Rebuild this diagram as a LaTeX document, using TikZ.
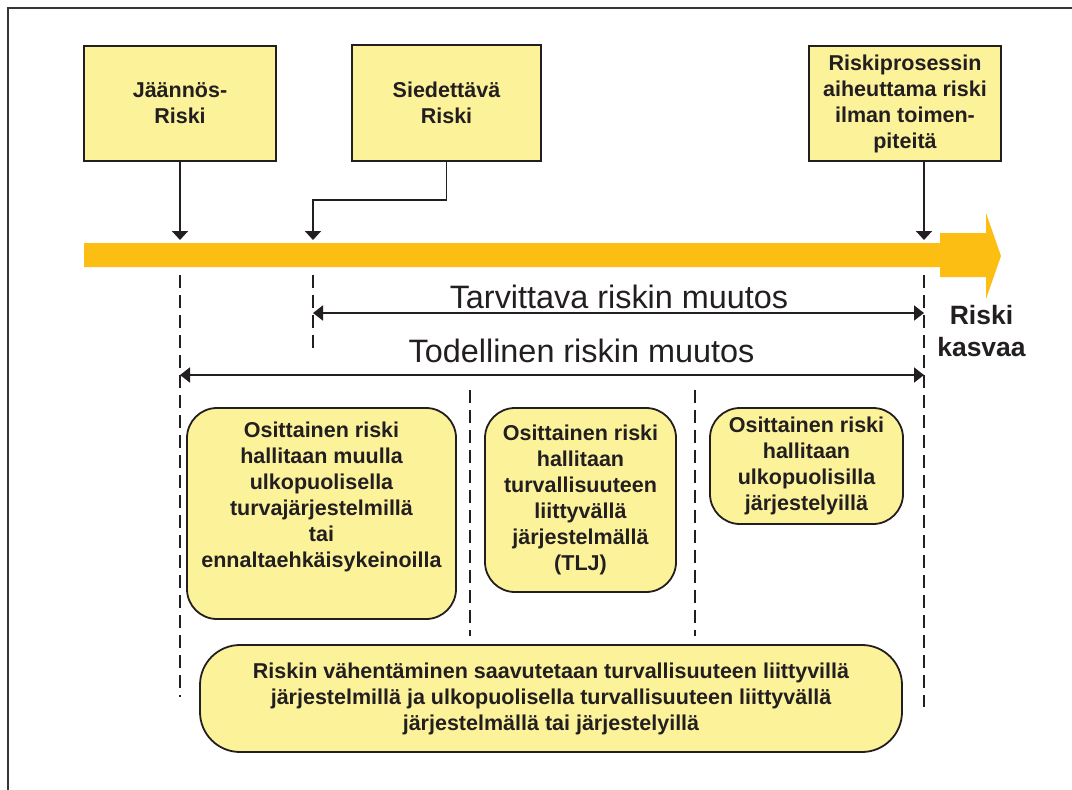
\documentclass[tikz,border=0pt]{standalone}
\usepackage{fontspec}
\setmainfont{Liberation Sans}
\usetikzlibrary{arrows.meta}
\definecolor{ink}{HTML}{231F20}
\definecolor{boxfill}{HTML}{FCF29A}
\definecolor{riskbar}{HTML}{FDBE14}

\begin{document}
\begin{tikzpicture}[x=1pt,y=-1pt,
  boxtxt/.style={font=\fontsize{21.5}{26}\selectfont\bfseries, text=ink, align=center},
  labelbox/.style={boxtxt, draw=ink, line width=1.8pt, fill=boxfill, inner sep=0pt},
  roundbox/.style={labelbox, rounded corners=30pt},
  conn/.style={draw=ink, line width=1.8pt, -{Triangle[width=16pt,length=9pt]}},
  span/.style={draw=ink, line width=1.8pt, {Triangle[width=15pt,length=10pt]}-{Triangle[width=15pt,length=10pt]}},
  guide/.style={draw=ink, line width=1.8pt, dash pattern=on 13pt off 7pt},
  spantxt/.style={font=\fontsize{32.4}{38}\selectfont, text=ink, anchor=base, inner sep=0pt},
]
\useasboundingbox (0,0) rectangle (1072,790);
\begin{scope}
  \clip (0,0) rectangle (1072,790);
  \fill[white] (0,0) rectangle (1072,790);
  \draw[ink!90, line width=2pt] (8,8) rectangle (1100,820);
\end{scope}

% risk level boxes
\node[labelbox, minimum width=192pt, minimum height=115pt] (res) at (180,103.5) {Jäännös-\\Riski};
\node[labelbox, minimum width=189pt, minimum height=116pt] (tol) at (446.5,103) {Siedettävä\\Riski};
\node[labelbox, minimum width=192pt, minimum height=115pt] (raw) at (905,103.5) {Riskiprosessin\\aiheuttama riski\\ilman toimen-\\piteitä};

% points on the risk scale
\coordinate (pres) at (180,240);
\coordinate (ptol) at (313,240);
\coordinate (praw) at (924,240);

% risk scale arrow
\fill[riskbar] (84,243) -- (940,243) -- (940,233) -- (986,233) -- (986,213)
  -- (1001,256) -- (986,299) -- (986,277) -- (940,277) -- (940,267) -- (84,267) -- cycle;

\draw[conn] (res.south) -- (pres);
\draw[conn] (tol.south) -- ++(0,38) -| (ptol);
\draw[conn] (raw.south -| praw) -- (praw);

% guide lines
\coordinate (g1a) at (180,275); \coordinate (g1b) at (180,697);
\coordinate (g2a) at (313,275); \coordinate (g2b) at (313,352);
\coordinate (g3a) at (470,390); \coordinate (g3b) at (470,636);
\coordinate (g4a) at (695,390); \coordinate (g4b) at (695,636);
\coordinate (g5a) at (924,275); \coordinate (g5b) at (924,707);

% required and actual risk reduction
\coordinate (n1) at (313,313); \coordinate (n2) at (924,313);
\coordinate (a1) at (180,375); \coordinate (a2) at (924,375);
\draw[span] (n1) -- (n2);
\draw[span] (a1) -- (a2);
\node[spantxt] (need) at (619,308) {Tarvittava riskin muutos};
\node[spantxt] (actual) at (581.5,362) {Todellinen riskin muutos};

\draw[guide] (g1a) -- (g1b);
\draw[guide] (g2a) -- (g2b);
\draw[guide] (g3a) -- (g3b);
\draw[guide] (g4a) -- (g4b);
\draw[guide] (g5a) -- (g5b);

\node[font=\fontsize{26.5}{32}\selectfont\bfseries, text=ink, align=center, inner sep=0pt] (grow) at (981.5,331.5) {Riski\\kasvaa};

% partial risk reduction measures
\node[roundbox, minimum width=269pt, minimum height=211pt] (other) at (321.5,513.5) {};
\node[boxtxt, inner sep=0pt] (othertxt) at (321.5,497) {Osittainen riski\\hallitaan muulla\\ulkopuolisella\\turvajärjestelmillä\\tai\\ennaltaehkäisykeinoilla};
\node[roundbox, minimum width=191pt, minimum height=184pt] (tlj) at (580.5,500) {Osittainen riski\\hallitaan\\turvallisuuteen\\liittyvällä\\järjestelmällä\\(TLJ)};
\node[roundbox, minimum width=193pt, minimum height=116pt] (ext) at (806.5,466) {Osittainen riski\\hallitaan\\ulkopuolisilla\\järjestelyillä};

% overall reduction
\node[roundbox, rounded corners=40pt, minimum width=702pt, minimum height=107pt] (sum) at (551,698.5)
  {Riskin vähentäminen saavutetaan turvallisuuteen liittyvillä\\järjestelmillä ja ulkopuolisella turvallisuuteen liittyvällä\\järjestelmällä tai järjestelyillä};
\end{tikzpicture}
\end{document}
